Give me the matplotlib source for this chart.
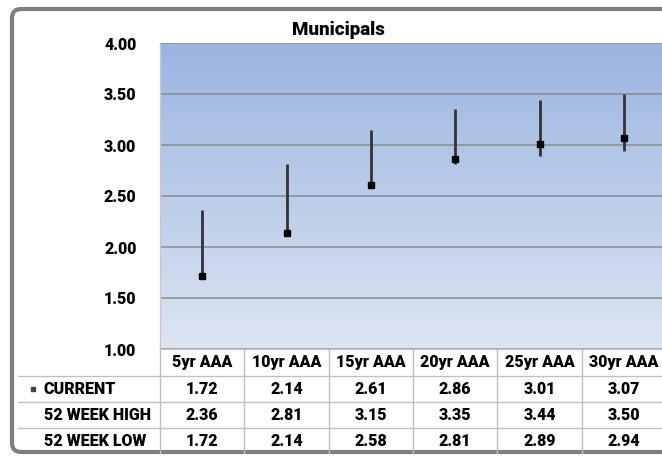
import matplotlib
matplotlib.use("Agg")
import numpy as np
from matplotlib import pyplot as plt
from matplotlib import transforms
from matplotlib.lines import Line2D
from matplotlib.patches import FancyBboxPatch
from matplotlib.colors import LinearSegmentedColormap

# municipal yield curve data
categories = ["5yr AAA", "10yr AAA", "15yr AAA", "20yr AAA", "25yr AAA", "30yr AAA"]
current = [1.72, 2.14, 2.61, 2.86, 3.01, 3.07]
high_52wk = [2.36, 2.81, 3.15, 3.35, 3.44, 3.50]
low_52wk = [1.72, 2.14, 2.58, 2.81, 2.89, 2.94]
row_labels = ["CURRENT", "52 WEEK HIGH", "52 WEEK LOW"]
yticks = [1.0, 1.5, 2.0, 2.5, 3.0, 3.5, 4.0]

W, H = 662, 457
plt.rcParams['font.family'] = ['Roboto', 'DejaVu Sans']
FW = 'heavy'
FS = 11.5
fig = plt.figure(figsize=(W / 100, H / 100), dpi=100)


def fx(x):
    return x / W


def fy(y):
    return 1 - y / H


# plot area (pixel positions)
left, right, top, bottom = 160, 666, 43, 349
ax = fig.add_axes([fx(left), fy(bottom), (right - left) / W, (bottom - top) / H])
n = len(categories)
ax.set_xlim(-0.5, n - 0.5)
ax.set_ylim(yticks[0], yticks[-1])

# blue gradient background
cmap = LinearSegmentedColormap.from_list("bg", ["#dde5f3", "#9ab4e0"])
grad = np.linspace(0, 1, 256).reshape(-1, 1)
ax.imshow(grad, extent=[-0.5, n - 0.5, yticks[0], yticks[-1]], aspect='auto',
          cmap=cmap, origin='lower', zorder=0)

ax.set_yticks(yticks)
ax.set_yticklabels(["%.2f" % t for t in yticks], fontsize=FS, fontweight=FW)
ax.tick_params(axis='y', length=0, pad=17)
ax.set_xticks([])
ax.grid(axis='y', color='#8c8c8c', lw=1.1)
for s in ['top', 'right']:
    ax.spines[s].set_visible(False)
for s in ['left', 'bottom']:
    ax.spines[s].set_color('#c8c8c8')
    ax.spines[s].set_linewidth(1)

# high-low lines with current marker
x = np.arange(n)
ax.vlines(x, low_52wk, high_52wk, color='#333333', lw=2.0, zorder=3)
ax.plot(x, current, 's', color='black', ms=4.8, ls='none', zorder=4)

# title
fig.text(fx(338), fy(30), "Municipals", ha='center', va='center',
         fontsize=13.5, fontweight=FW)

# data table under the plot
trans = transforms.blended_transform_factory(ax.transData, fig.transFigure)
grid_c = '#bfbfbf'
header_y = fy(362.5)
row_y = [fy(389), fy(415), fy(440.5)]
for i, cat in enumerate(categories):
    fig.text(i, header_y, cat, transform=trans, ha='center', va='center',
             fontsize=FS, fontweight=FW)
    for yy, vals in zip(row_y, [current, high_52wk, low_52wk]):
        fig.text(i, yy, "%.2f" % vals[i], transform=trans, ha='center',
                 va='center', fontsize=FS, fontweight=FW)
for yy, lab in zip(row_y, row_labels):
    fig.text(fx(44), yy, lab, ha='left', va='center', fontsize=FS,
             fontweight=FW)
fig.add_artist(Line2D([fx(33)], [row_y[0]], marker='s', ms=3.5,
                      color='#404040', transform=fig.transFigure))

# table grid lines
for yy in [376, 402, 428]:
    fig.add_artist(Line2D([fx(18), fx(662)], [fy(yy), fy(yy)], color=grid_c,
                          lw=1, transform=fig.transFigure))
for b in np.arange(n + 1) - 0.5:
    fig.add_artist(Line2D([b, b], [fy(349), fy(453)], color=grid_c, lw=1,
                          transform=trans))

# rounded outer frame
frame = FancyBboxPatch((12, H - 452), 720, 443,
                       boxstyle="round,pad=0,rounding_size=9",
                       transform=transforms.IdentityTransform(),
                       fill=False, ec='#7f7f7f', lw=3)
fig.add_artist(frame)

fig.savefig('out.png', dpi=100)
